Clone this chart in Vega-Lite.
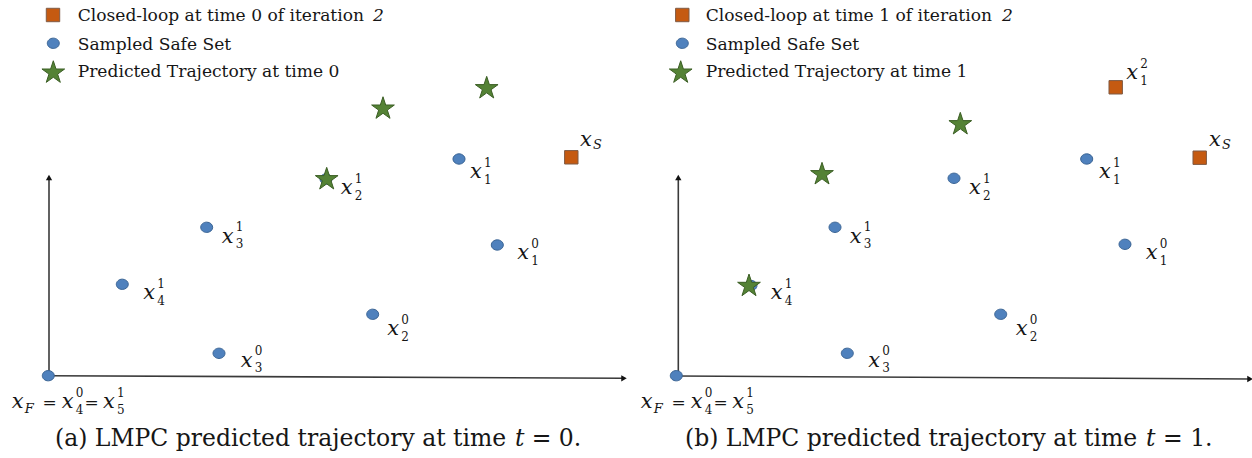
{
  "$schema": "https://vega.github.io/schema/vega-lite/v6.json",
  "padding": 0,
  "background": "white",
  "spacing": 0,
  "config": {"view": {"stroke": null}, "text": {"font": "DejaVu Serif", "color": "#161616"}},
  "datasets": {
    "marks": [
      {"panel": "a", "kind": "axis", "x": 0.1, "y": 0, "x2": 0.1, "y2": 19.8},
      {"panel": "a", "kind": "axis", "x": 0, "y": -0.07, "x2": 57.5, "y2": -0.33},
      {"panel": "a", "kind": "up", "x": 0.1, "y": 19.75},
      {"panel": "a", "kind": "right", "x": 57.6, "y": -0.33},
      {"panel": "b", "kind": "axis", "x": 0.33, "y": -0.1, "x2": 0.33, "y2": 19.8},
      {"panel": "b", "kind": "axis", "x": 0.13, "y": -0.1, "x2": 57.4, "y2": -0.4},
      {"panel": "b", "kind": "up", "x": 0.33, "y": 19.75},
      {"panel": "b", "kind": "right", "x": 57.5, "y": -0.4},

      {"panel": "a", "kind": "safe", "x": 41.1, "y": 21.6},
      {"panel": "a", "kind": "safe", "x": 44.93, "y": 13.0},
      {"panel": "a", "kind": "safe", "x": 32.47, "y": 6.07},
      {"panel": "a", "kind": "safe", "x": 27.8, "y": 19.6},
      {"panel": "a", "kind": "safe", "x": 15.87, "y": 14.77},
      {"panel": "a", "kind": "safe", "x": 7.43, "y": 9.07},
      {"panel": "a", "kind": "safe", "x": 17.1, "y": 2.17},
      {"panel": "a", "kind": "safe", "x": 0.03, "y": -0.07},
      {"panel": "a", "kind": "safe", "x": 0.53, "y": 33.17},
      {"panel": "a", "kind": "closed", "x": 52.33, "y": 21.77},
      {"panel": "a", "kind": "closed", "x": 0.5, "y": 36.0},
      {"panel": "a", "kind": "pred", "x": 33.5, "y": 26.63},
      {"panel": "a", "kind": "pred", "x": 43.87, "y": 28.67},
      {"panel": "a", "kind": "pred", "x": 27.87, "y": 19.57},
      {"panel": "a", "kind": "pred", "x": 0.53, "y": 30.23},

      {"panel": "b", "kind": "safe", "x": 41.17, "y": 21.6},
      {"panel": "b", "kind": "safe", "x": 27.9, "y": 19.67},
      {"panel": "b", "kind": "safe", "x": 45.0, "y": 13.07},
      {"panel": "b", "kind": "safe", "x": 32.57, "y": 6.07},
      {"panel": "b", "kind": "safe", "x": 16.0, "y": 14.77},
      {"panel": "b", "kind": "safe", "x": 7.6, "y": 8.95},
      {"panel": "b", "kind": "safe", "x": 17.23, "y": 2.17},
      {"panel": "b", "kind": "safe", "x": 0.13, "y": -0.07},
      {"panel": "b", "kind": "safe", "x": 0.73, "y": 33.17},
      {"panel": "b", "kind": "closed", "x": 44.07, "y": 28.77},
      {"panel": "b", "kind": "closed", "x": 52.47, "y": 21.73},
      {"panel": "b", "kind": "closed", "x": 0.73, "y": 36.0},
      {"panel": "b", "kind": "pred", "x": 14.7, "y": 20.07},
      {"panel": "b", "kind": "pred", "x": 28.53, "y": 25.07},
      {"panel": "b", "kind": "pred", "x": 7.4, "y": 8.9},
      {"panel": "b", "kind": "pred", "x": 0.57, "y": 30.23},

      {"panel": "a", "kind": "leg", "t": "Closed-loop at time 0 of iteration", "x": 2.97, "y": 35.43},
      {"panel": "a", "kind": "legi", "t": "2", "x": 32.5, "y": 35.43},
      {"panel": "a", "kind": "leg", "t": "Sampled Safe Set", "x": 2.97, "y": 32.5},
      {"panel": "a", "kind": "leg", "t": "Predicted Trajectory at time 0", "x": 2.97, "y": 29.77},
      {"panel": "b", "kind": "leg", "t": "Closed-loop at time 1 of iteration", "x": 3.07, "y": 35.43},
      {"panel": "b", "kind": "legi", "t": "2", "x": 32.7, "y": 35.43},
      {"panel": "b", "kind": "leg", "t": "Sampled Safe Set", "x": 3.07, "y": 32.5},
      {"panel": "b", "kind": "leg", "t": "Predicted Trajectory at time 1", "x": 3.07, "y": 29.77},

      {"panel": "a", "kind": "cap", "t": "(a) LMPC predicted trajectory at time", "x": 0.7, "y": -7.1},
      {"panel": "a", "kind": "capi", "t": "t", "x": 46.7, "y": -7.1},
      {"panel": "a", "kind": "cap", "t": "= 0.", "x": 48.37, "y": -7.1},
      {"panel": "b", "kind": "cap", "t": "(b) LMPC predicted trajectory at time", "x": 1.0, "y": -7.1},
      {"panel": "b", "kind": "capi", "t": "t", "x": 47.1, "y": -7.1},
      {"panel": "b", "kind": "cap", "t": "= 1.", "x": 48.8, "y": -7.1},

      {"panel": "a", "kind": "math", "t": "x", "sup": "", "sub": "S", "x": 53.2, "y": 22.9},
      {"panel": "a", "kind": "math", "t": "x", "sup": "1", "sub": "1", "x": 42.2, "y": 19.67},
      {"panel": "a", "kind": "math", "t": "x", "sup": "0", "sub": "1", "x": 46.93, "y": 11.57},
      {"panel": "a", "kind": "math", "t": "x", "sup": "0", "sub": "2", "x": 33.93, "y": 3.97},
      {"panel": "a", "kind": "math", "t": "x", "sup": "1", "sub": "2", "x": 29.27, "y": 18.07},
      {"panel": "a", "kind": "math", "t": "x", "sup": "1", "sub": "3", "x": 17.37, "y": 13.23},
      {"panel": "a", "kind": "math", "t": "x", "sup": "1", "sub": "4", "x": 9.53, "y": 7.57},
      {"panel": "a", "kind": "math", "t": "x", "sup": "0", "sub": "3", "x": 19.27, "y": 0.83},
      {"panel": "a", "kind": "math", "t": "x", "sup": "", "sub": "F", "x": -3.63, "y": -3.33},
      {"panel": "a", "kind": "math", "t": "x", "sup": "0", "sub": "4", "x": 1.37, "y": -3.33},
      {"panel": "a", "kind": "math", "t": "x", "sup": "1", "sub": "5", "x": 5.5, "y": -3.33},
      {"panel": "a", "kind": "eq", "t": "=", "x": 0.15, "y": -3.33},
      {"panel": "a", "kind": "eq", "t": "=", "x": 4.35, "y": -3.33},

      {"panel": "b", "kind": "math", "t": "x", "sup": "2", "sub": "1", "x": 45.13, "y": 29.57},
      {"panel": "b", "kind": "math", "t": "x", "sup": "", "sub": "S", "x": 53.4, "y": 22.9},
      {"panel": "b", "kind": "math", "t": "x", "sup": "1", "sub": "1", "x": 42.4, "y": 19.67},
      {"panel": "b", "kind": "math", "t": "x", "sup": "1", "sub": "2", "x": 29.4, "y": 18.07},
      {"panel": "b", "kind": "math", "t": "x", "sup": "0", "sub": "1", "x": 47.07, "y": 11.57},
      {"panel": "b", "kind": "math", "t": "x", "sup": "0", "sub": "2", "x": 34.07, "y": 3.97},
      {"panel": "b", "kind": "math", "t": "x", "sup": "1", "sub": "3", "x": 17.47, "y": 13.23},
      {"panel": "b", "kind": "math", "t": "x", "sup": "1", "sub": "4", "x": 9.57, "y": 7.57},
      {"panel": "b", "kind": "math", "t": "x", "sup": "0", "sub": "3", "x": 19.33, "y": 0.83},
      {"panel": "b", "kind": "math", "t": "x", "sup": "", "sub": "F", "x": -3.43, "y": -3.33},
      {"panel": "b", "kind": "math", "t": "x", "sup": "0", "sub": "4", "x": 1.57, "y": -3.33},
      {"panel": "b", "kind": "math", "t": "x", "sup": "1", "sub": "5", "x": 5.73, "y": -3.33},
      {"panel": "b", "kind": "eq", "t": "=", "x": 0.35, "y": -3.33},
      {"panel": "b", "kind": "eq", "t": "=", "x": 4.57, "y": -3.33}
    ]
  },
  "data": {"name": "marks"},
  "hconcat": [
    {
      "transform": [{"filter": "datum.panel === 'a'"}],
      "width": 624,
      "height": 458,
      "encoding": {
        "x": {"field": "x", "type": "quantitative", "scale": {"domain": [-4.8, 57.6], "nice": false, "zero": false}, "axis": null},
        "y": {"field": "y", "type": "quantitative", "scale": {"domain": [-8.3, 37.5], "nice": false, "zero": false}, "axis": null}
      },
      "layer": [
        {"transform": [{"filter": "datum.kind === 'axis'"}], "mark": {"type": "rule", "color": "#3a3a3a", "strokeWidth": 1.6}, "encoding": {"x2": {"field": "x2"}, "y2": {"field": "y2"}}},
        {"transform": [{"filter": "datum.kind === 'up'"}], "mark": {"type": "point", "shape": "triangle-up", "filled": true, "color": "#111111", "opacity": 1, "size": 40}, "encoding": {}},
        {"transform": [{"filter": "datum.kind === 'right'"}], "mark": {"type": "point", "shape": "triangle-right", "filled": true, "color": "#111111", "opacity": 1, "size": 40}, "encoding": {}},
        {"transform": [{"filter": "datum.kind === 'safe'"}], "mark": {"type": "point", "shape": "M-1,0A1,0.86,0,1,0,1,0A1,0.86,0,1,0,-1,0Z", "filled": true, "opacity": 1, "fill": "#4f81bd", "stroke": "#3a6494", "strokeWidth": 1, "size": 144}, "encoding": {}},
        {"transform": [{"filter": "datum.kind === 'closed'"}], "mark": {"type": "point", "shape": "square", "filled": true, "opacity": 1, "fill": "#c55a11", "stroke": "#7f5a44", "strokeWidth": 1, "size": 180}, "encoding": {}},
        {"transform": [{"filter": "datum.kind === 'pred'"}], "mark": {"type": "point", "shape": "M0,-1L0.225,-0.309L0.951,-0.309L0.363,0.118L0.588,0.809L0,0.382L-0.588,0.809L-0.363,0.118L-0.951,-0.309L-0.225,-0.309Z", "filled": true, "opacity": 1, "fill": "#548235", "stroke": "#3b5e24", "strokeWidth": 1, "size": 570}, "encoding": {}},
        {"transform": [{"filter": "datum.kind === 'leg'"}], "mark": {"type": "text", "align": "left", "baseline": "alphabetic", "fontSize": 17.1}, "encoding": {"text": {"field": "t"}}},
        {"transform": [{"filter": "datum.kind === 'legi'"}], "mark": {"type": "text", "align": "left", "baseline": "alphabetic", "fontSize": 17.1, "fontStyle": "italic"}, "encoding": {"text": {"field": "t"}}},
        {"transform": [{"filter": "datum.kind === 'cap'"}], "mark": {"type": "text", "align": "left", "baseline": "alphabetic", "fontSize": 23.5}, "encoding": {"text": {"field": "t"}}},
        {"transform": [{"filter": "datum.kind === 'capi'"}], "mark": {"type": "text", "align": "left", "baseline": "alphabetic", "fontSize": 23.5, "fontStyle": "italic"}, "encoding": {"text": {"field": "t"}}},
        {"transform": [{"filter": "datum.kind === 'eq'"}], "mark": {"type": "text", "align": "center", "baseline": "alphabetic", "fontSize": 17}, "encoding": {"text": {"field": "t"}}},
        {"transform": [{"filter": "datum.kind === 'math'"}], "mark": {"type": "text", "align": "left", "baseline": "alphabetic", "fontSize": 21, "fontStyle": "italic"}, "encoding": {"text": {"field": "t"}}},
        {"transform": [{"filter": "datum.kind === 'math' && datum.sup !== ''"}], "mark": {"type": "text", "align": "left", "baseline": "alphabetic", "fontSize": 12, "dx": 14, "dy": -11.6}, "encoding": {"text": {"field": "sup"}}},
        {"transform": [{"filter": "datum.kind === 'math' && datum.sup !== ''"}], "mark": {"type": "text", "align": "left", "baseline": "alphabetic", "fontSize": 12, "dx": 14, "dy": 5.7}, "encoding": {"text": {"field": "sub"}}},
        {"transform": [{"filter": "datum.kind === 'math' && datum.sub === 'S'"}], "mark": {"type": "text", "align": "left", "baseline": "alphabetic", "fontSize": 13, "fontStyle": "italic", "dx": 13, "dy": 2.5}, "encoding": {"text": {"field": "sub"}}},
        {"transform": [{"filter": "datum.kind === 'math' && datum.sub === 'F'"}], "mark": {"type": "text", "align": "left", "baseline": "alphabetic", "fontSize": 13, "fontStyle": "italic", "dx": 13, "dy": 5}, "encoding": {"text": {"field": "sub"}}}
      ]
    },
    {
      "transform": [{"filter": "datum.panel === 'b'"}],
      "width": 624,
      "height": 458,
      "encoding": {
        "x": {"field": "x", "type": "quantitative", "scale": {"domain": [-4.8, 57.6], "nice": false, "zero": false}, "axis": null},
        "y": {"field": "y", "type": "quantitative", "scale": {"domain": [-8.3, 37.5], "nice": false, "zero": false}, "axis": null}
      },
      "layer": [
        {"transform": [{"filter": "datum.kind === 'axis'"}], "mark": {"type": "rule", "color": "#3a3a3a", "strokeWidth": 1.6}, "encoding": {"x2": {"field": "x2"}, "y2": {"field": "y2"}}},
        {"transform": [{"filter": "datum.kind === 'up'"}], "mark": {"type": "point", "shape": "triangle-up", "filled": true, "color": "#111111", "opacity": 1, "size": 40}, "encoding": {}},
        {"transform": [{"filter": "datum.kind === 'right'"}], "mark": {"type": "point", "shape": "triangle-right", "filled": true, "color": "#111111", "opacity": 1, "size": 40}, "encoding": {}},
        {"transform": [{"filter": "datum.kind === 'safe'"}], "mark": {"type": "point", "shape": "M-1,0A1,0.86,0,1,0,1,0A1,0.86,0,1,0,-1,0Z", "filled": true, "opacity": 1, "fill": "#4f81bd", "stroke": "#3a6494", "strokeWidth": 1, "size": 144}, "encoding": {}},
        {"transform": [{"filter": "datum.kind === 'closed'"}], "mark": {"type": "point", "shape": "square", "filled": true, "opacity": 1, "fill": "#c55a11", "stroke": "#7f5a44", "strokeWidth": 1, "size": 180}, "encoding": {}},
        {"transform": [{"filter": "datum.kind === 'pred'"}], "mark": {"type": "point", "shape": "M0,-1L0.225,-0.309L0.951,-0.309L0.363,0.118L0.588,0.809L0,0.382L-0.588,0.809L-0.363,0.118L-0.951,-0.309L-0.225,-0.309Z", "filled": true, "opacity": 1, "fill": "#548235", "stroke": "#3b5e24", "strokeWidth": 1, "size": 570}, "encoding": {}},
        {"transform": [{"filter": "datum.kind === 'leg'"}], "mark": {"type": "text", "align": "left", "baseline": "alphabetic", "fontSize": 17.1}, "encoding": {"text": {"field": "t"}}},
        {"transform": [{"filter": "datum.kind === 'legi'"}], "mark": {"type": "text", "align": "left", "baseline": "alphabetic", "fontSize": 17.1, "fontStyle": "italic"}, "encoding": {"text": {"field": "t"}}},
        {"transform": [{"filter": "datum.kind === 'cap'"}], "mark": {"type": "text", "align": "left", "baseline": "alphabetic", "fontSize": 23.5}, "encoding": {"text": {"field": "t"}}},
        {"transform": [{"filter": "datum.kind === 'capi'"}], "mark": {"type": "text", "align": "left", "baseline": "alphabetic", "fontSize": 23.5, "fontStyle": "italic"}, "encoding": {"text": {"field": "t"}}},
        {"transform": [{"filter": "datum.kind === 'eq'"}], "mark": {"type": "text", "align": "center", "baseline": "alphabetic", "fontSize": 17}, "encoding": {"text": {"field": "t"}}},
        {"transform": [{"filter": "datum.kind === 'math'"}], "mark": {"type": "text", "align": "left", "baseline": "alphabetic", "fontSize": 21, "fontStyle": "italic"}, "encoding": {"text": {"field": "t"}}},
        {"transform": [{"filter": "datum.kind === 'math' && datum.sup !== ''"}], "mark": {"type": "text", "align": "left", "baseline": "alphabetic", "fontSize": 12, "dx": 14, "dy": -11.6}, "encoding": {"text": {"field": "sup"}}},
        {"transform": [{"filter": "datum.kind === 'math' && datum.sup !== ''"}], "mark": {"type": "text", "align": "left", "baseline": "alphabetic", "fontSize": 12, "dx": 14, "dy": 5.7}, "encoding": {"text": {"field": "sub"}}},
        {"transform": [{"filter": "datum.kind === 'math' && datum.sub === 'S'"}], "mark": {"type": "text", "align": "left", "baseline": "alphabetic", "fontSize": 13, "fontStyle": "italic", "dx": 13, "dy": 2.5}, "encoding": {"text": {"field": "sub"}}},
        {"transform": [{"filter": "datum.kind === 'math' && datum.sub === 'F'"}], "mark": {"type": "text", "align": "left", "baseline": "alphabetic", "fontSize": 13, "fontStyle": "italic", "dx": 13, "dy": 5}, "encoding": {"text": {"field": "sub"}}}
      ]
    }
  ]
}
